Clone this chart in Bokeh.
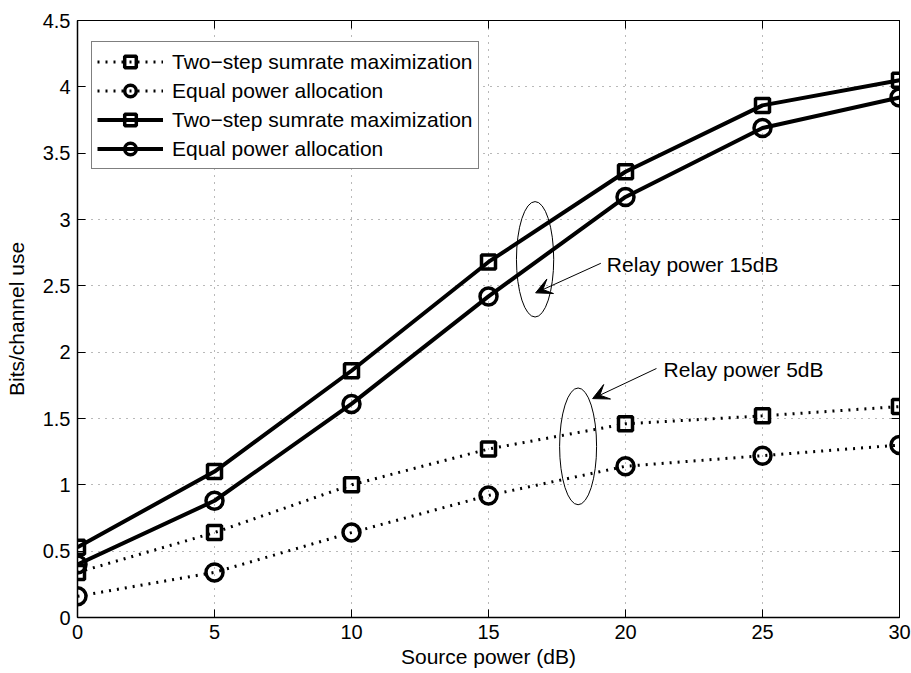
from bokeh.plotting import figure
from bokeh.models import (Range1d, FixedTicker, LinearAxis, Legend, LegendItem,
                          Arrow, VeeHead, Label, ColumnDataSource)
from bokeh.embed import file_html
from bokeh.resources import INLINE

# ---- data ----
source_power = [0, 5, 10, 15, 20, 25, 30]
two_step_relay15 = [0.53, 1.10, 1.86, 2.68, 3.36, 3.86, 4.05]
equal_relay15 = [0.40, 0.88, 1.61, 2.42, 3.17, 3.69, 3.92]
two_step_relay5 = [0.34, 0.64, 1.00, 1.27, 1.46, 1.52, 1.59]
equal_relay5 = [0.16, 0.34, 0.64, 0.92, 1.14, 1.22, 1.30]

x_ticks = [0, 5, 10, 15, 20, 25, 30]
y_ticks = [0, 0.5, 1, 1.5, 2, 2.5, 3, 3.5, 4, 4.5]

label_two_step = "Two\u2212step sumrate maximization"
label_equal = "Equal power allocation"

# annotation groups (ellipse centre / size, arrow, text)
ell_x = [16.7, 18.27]
ell_y = [2.70, 1.29]
ell_w = [1.36, 1.35]
ell_h = [0.87, 0.88]
ann_texts = ["Relay power 15dB", "Relay power 5dB"]
ann_text_x = [19.32, 21.39]
ann_text_y = [2.66, 1.87]
arrow_start = [(19.1, 2.67), (21.13, 1.877)]
arrow_end = [(16.72, 2.447), (18.8, 1.65)]

FONT = "Liberation Sans"

p = figure(width=911, height=673, output_backend="svg", toolbar_location=None,
           x_range=Range1d(0, 30), y_range=Range1d(0, 4.5),
           min_border_left=77, min_border_right=12, min_border_top=20,
           min_border_bottom=56)
p.background_fill_color = "white"
p.border_fill_color = "white"
p.outline_line_color = "black"
p.outline_line_width = 1

for ax in (p.xaxis[0], p.yaxis[0]):
    ax.major_label_text_font = FONT
    ax.major_label_text_font_size = "20px"
    ax.major_label_text_color = "black"
    ax.axis_label_text_font = FONT
    ax.axis_label_text_font_size = "21px"
    ax.axis_label_text_font_style = "normal"
    ax.axis_label_text_color = "black"
    ax.major_tick_in = 8
    ax.major_tick_out = 0
    ax.minor_tick_line_color = None
    ax.axis_line_width = 1.5
    ax.axis_line_color = "black"
    ax.major_tick_line_color = "black"

p.xaxis[0].ticker = FixedTicker(ticks=x_ticks)
p.yaxis[0].ticker = FixedTicker(ticks=y_ticks)
p.xaxis[0].axis_label = "Source power (dB)"
p.yaxis[0].axis_label = "Bits/channel use"
p.xaxis[0].major_label_standoff = 7
p.xaxis[0].axis_label_standoff = 3
p.yaxis[0].major_label_standoff = 7
p.yaxis[0].axis_label_standoff = 12

# box axes (top / right) with inward ticks, empty labels
top_ax = LinearAxis(ticker=FixedTicker(ticks=x_ticks),
                    major_label_overrides={t: "" for t in x_ticks},
                    major_tick_in=8, major_tick_out=0, minor_tick_line_color=None,
                    major_label_standoff=0, axis_line_color="black")
right_ax = LinearAxis(ticker=FixedTicker(ticks=y_ticks),
                      major_label_overrides={t: "" for t in y_ticks},
                      major_tick_in=8, major_tick_out=0, minor_tick_line_color=None,
                      major_label_standoff=0, axis_line_color="black")
p.add_layout(top_ax, "above")
p.add_layout(right_ax, "right")

p.xgrid[0].ticker = FixedTicker(ticks=x_ticks)
p.ygrid[0].ticker = FixedTicker(ticks=y_ticks)
for g in (p.xgrid[0], p.ygrid[0]):
    g.grid_line_color = "black"
    g.grid_line_alpha = 0.55
    g.grid_line_dash = "1 6"
    g.grid_line_width = 1

# ---- series ----
src = ColumnDataSource(dict(x=source_power, a=two_step_relay5, b=equal_relay5,
                            c=two_step_relay15, d=equal_relay15))

DOT = "2 6"
l1 = p.line("x", "a", source=src, line_color="black", line_width=3, line_dash=DOT)
m1 = p.scatter("x", "a", source=src, marker="square", size=14, fill_color=None,
               line_color="black", line_width=3.5)
l2 = p.line("x", "b", source=src, line_color="black", line_width=3, line_dash=DOT)
m2 = p.scatter("x", "b", source=src, marker="circle", size=17, fill_color=None,
               line_color="black", line_width=3.5)
l3 = p.line("x", "c", source=src, line_color="black", line_width=4)
m3 = p.scatter("x", "c", source=src, marker="square", size=14, fill_color=None,
               line_color="black", line_width=3.5)
l4 = p.line("x", "d", source=src, line_color="black", line_width=4)
m4 = p.scatter("x", "d", source=src, marker="circle", size=17, fill_color=None,
               line_color="black", line_width=3.5)

# ---- annotations ----
esrc = ColumnDataSource(dict(x=ell_x, y=ell_y, w=ell_w, h=ell_h))
p.ellipse("x", "y", width="w", height="h", source=esrc, fill_color=None,
          line_color="black", line_width=1)

for (x0, y0), (x1, y1) in zip(arrow_start, arrow_end):
    p.add_layout(Arrow(x_start=x0, y_start=y0, x_end=x1, y_end=y1,
                       line_color="black", line_width=1,
                       end=VeeHead(size=16, fill_color="black", line_color="black",
                                   line_width=1)))

for t, tx, ty in zip(ann_texts, ann_text_x, ann_text_y):
    p.add_layout(Label(x=tx, y=ty, text=t, text_font=FONT, text_font_size="21px",
                       text_color="black", text_baseline="middle", text_align="left"))

# ---- legend ----
legend = Legend(items=[
    LegendItem(label=label_two_step, renderers=[l1, m1]),
    LegendItem(label=label_equal, renderers=[l2, m2]),
    LegendItem(label=label_two_step, renderers=[l3, m3]),
    LegendItem(label=label_equal, renderers=[l4, m4]),
], location=(14, 448))
legend.label_text_font = FONT
legend.label_text_font_size = "21px"
legend.label_text_color = "black"
legend.glyph_width = 66
legend.glyph_height = 29
legend.label_height = 26
legend.spacing = 0
legend.padding = 5
legend.margin = 0
legend.label_standoff = 9
legend.border_line_color = "black"
legend.border_line_width = 1
legend.background_fill_color = "white"
legend.background_fill_alpha = 1
p.add_layout(legend, "center")

open("out.html", "w").write(file_html(p, INLINE))
